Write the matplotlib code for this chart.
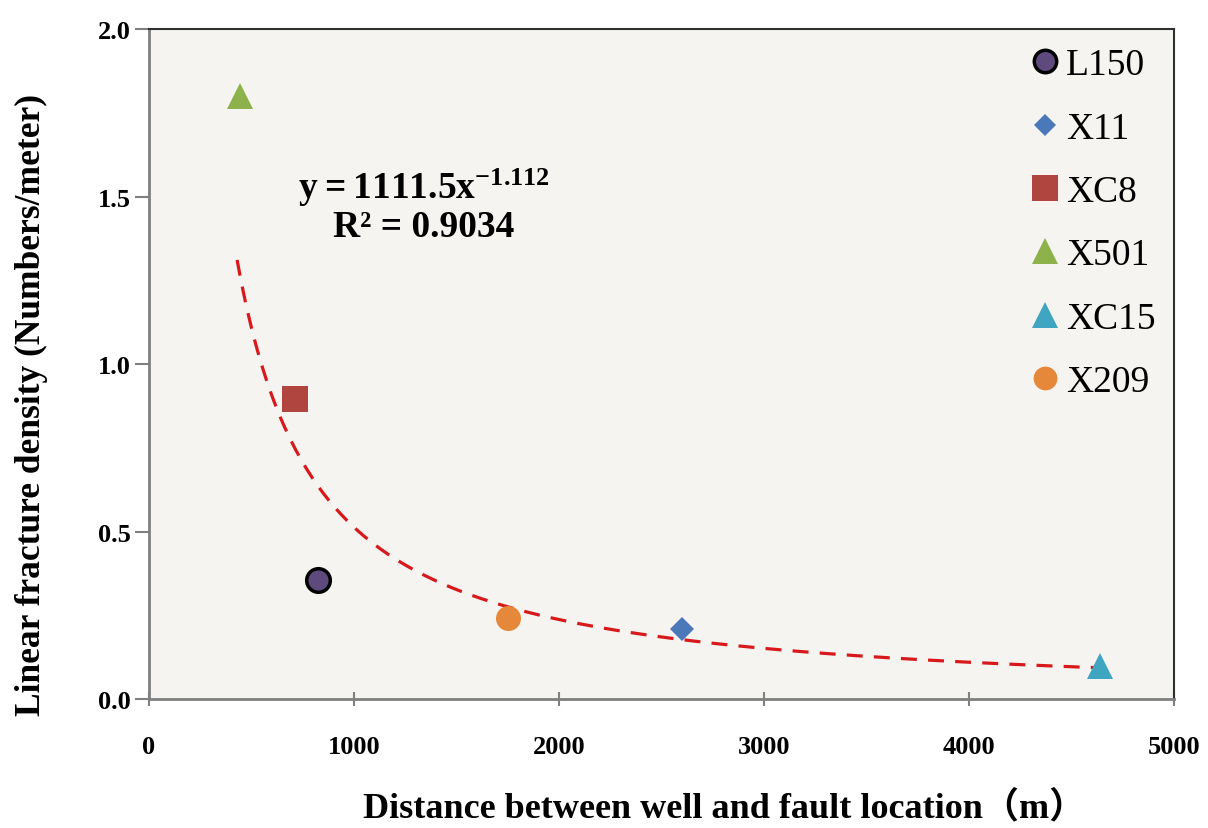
import numpy as np
import matplotlib
matplotlib.use('Agg')
import matplotlib.pyplot as plt

# well data
wells = ['L150', 'X11', 'XC8', 'X501', 'XC15', 'X209']
distance = [824, 2600, 712, 444, 4640, 1750]
density = [0.355, 0.21, 0.895, 1.80, 0.10, 0.243]
colors = ['#5e4a7c', '#4a78b8', '#b0443f', '#8db24c', '#3fa5c0', '#e6883a']
markers = ['o', 'D', 's', '^', '^', 'o']
msizes = [17, 12, 19, 19, 19, 18]
edges = ['black', 'none', 'none', 'none', 'none', 'none']

# power-law trend line y = a * x^b
fit_a = 1111.5
fit_b = -1.112
fit_r2 = 0.9034
fit_range = [430, 4650]

plt.rcParams['mathtext.fontset'] = 'custom'
plt.rcParams['mathtext.rm'] = 'Liberation Serif'
plt.rcParams['mathtext.bf'] = 'Liberation Serif:bold'

fig = plt.figure(figsize=(12.08, 8.29), dpi=100)
ax = fig.add_axes([0.1233, 0.1556, 0.8487, 0.8082])
ax.set_facecolor('#f5f4f0')

xs = np.linspace(fit_range[0], fit_range[1], 300)
ax.plot(xs, fit_a * xs ** fit_b, color='#d7191c', lw=2.3, ls=(0, (5, 3.5)), zorder=2)

for w, x, y, c, m, s, e in zip(wells, distance, density, colors, markers, msizes, edges):
    ax.plot(x, y, ls='', marker=m, markersize=s, color=c, markeredgecolor=e,
            markeredgewidth=2.5 if e != 'none' else 0, label=w, zorder=3)

ax.text(1340, 1.53, r'$\mathbf{y = 1111.5x^{-1.112}}$', fontsize=27, ha='center', va='center')
ax.text(1340, 1.41, 'R² = %.4f' % fit_r2, fontsize=27, ha='center', va='center',
        family='Liberation Serif', weight='bold')

ax.set_xlim(0, 5000)
ax.set_ylim(0, 2.0)
ax.set_xticks([0, 1000, 2000, 3000, 4000, 5000])
ax.set_yticks([0, 0.5, 1.0, 1.5, 2.0])
ax.yaxis.set_major_formatter(matplotlib.ticker.FormatStrFormatter('%.1f'))
ax.tick_params(axis='y', direction='out', length=10, width=1.5, color='#808080', pad=3)
ax.tick_params(axis='x', direction='inout', length=10, width=1.5, color='#808080', pad=21)
for lab in ax.get_xticklabels() + ax.get_yticklabels():
    lab.set_family('Liberation Serif')
    lab.set_weight('bold')
    lab.set_fontsize(19)

for side in ['left', 'bottom']:
    ax.spines[side].set_color('#7f7f7f')
    ax.spines[side].set_linewidth(2)
for side in ['top', 'right']:
    ax.spines[side].set_color('#303030')
    ax.spines[side].set_linewidth(1.5)

ax.set_xlabel('Distance between well and fault location（m）', fontsize=26, weight='bold',
              family=['Liberation Serif', 'Noto Sans CJK SC'])
ax.xaxis.set_label_coords(0.561, -0.136)
ax.set_ylabel('Linear fracture density (Numbers/meter)', fontsize=25.5, weight='bold',
              family='Liberation Serif')
ax.yaxis.set_label_coords(-0.098, 0.44)

leg = ax.legend(loc='upper right', bbox_to_anchor=(1.0, 1.0), frameon=False,
                prop={'family': 'Liberation Serif', 'size': 27}, markerscale=0.95,
                handletextpad=0.05, labelspacing=0.77, handlelength=1.0, borderaxespad=0.1)

fig.savefig('out.png', dpi=100)
